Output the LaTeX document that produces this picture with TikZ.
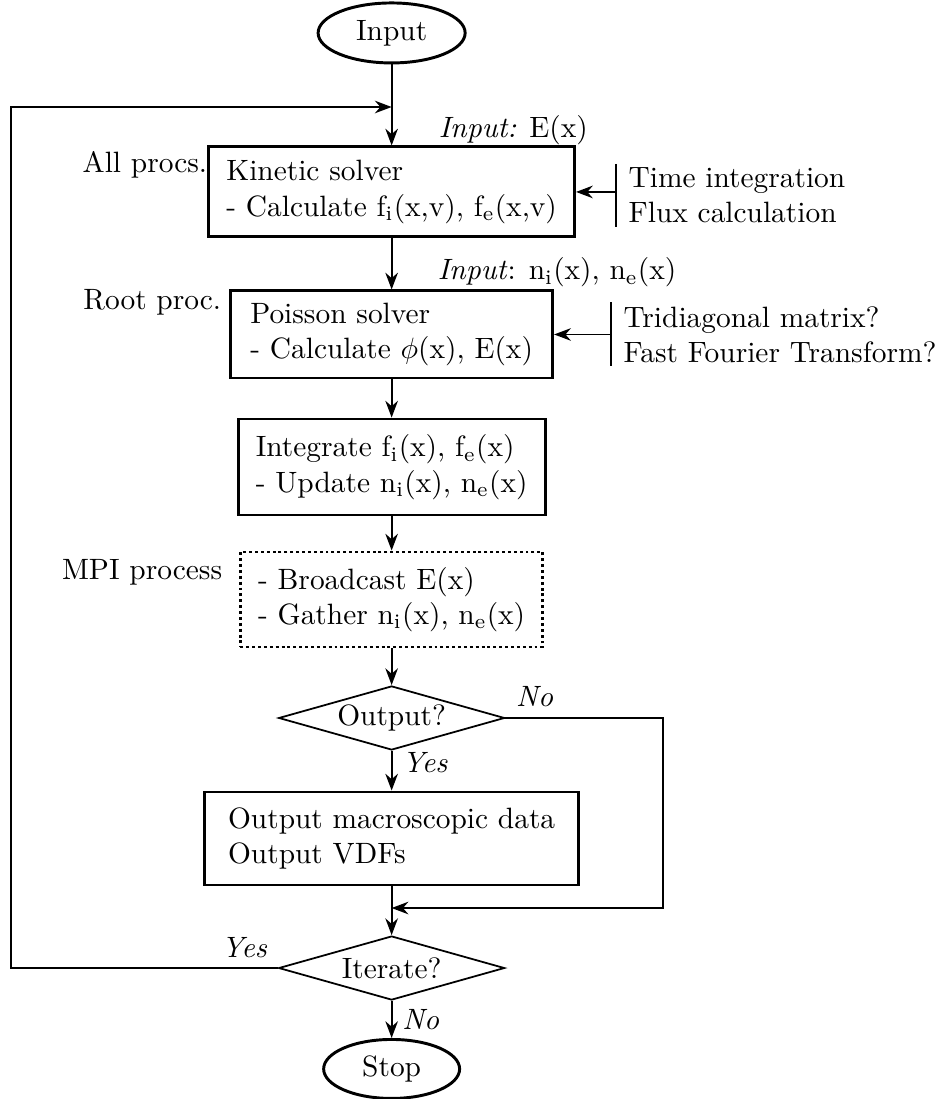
\documentclass[tikz,border=0pt]{standalone}
\usetikzlibrary{arrows.meta,shapes.geometric}

\begin{document}
\begin{tikzpicture}[line width=0.6pt,>=Stealth,
  block/.style={draw,line width=1pt,align=left,inner xsep=6pt},
  term/.style={draw,ellipse,line width=1pt,inner sep=0pt},
  decide/.style={draw,diamond,aspect=3.5,inner sep=0pt,minimum width=2.70cm,minimum height=0.765cm},
  method/.style={align=left,inner xsep=4pt,inner ysep=1pt},
  proclabel/.style={inner sep=0pt}]
\useasboundingbox (0,0) rectangle (11.185,13.133);
% start and end
\node[term,minimum width=1.757cm,minimum height=0.717cm] (input) at (4.68,12.739) {Input};
\node[term,minimum width=1.625cm,minimum height=0.705cm] (stop) at (4.68,0.359) {Stop};
% main blocks
\node[block,minimum width=4.278cm,minimum height=1.076cm] (kinetic) at (4.68,10.839)
  {Kinetic solver\\- Calculate f\textsubscript{i}(x,v), f\textsubscript{e}(x,v)};
\node[block,minimum width=3.848cm,minimum height=1.040cm] (poisson) at (4.68,9.136)
  {Poisson solver\\- Calculate $\phi$(x), E(x)};
\node[block,minimum width=3.573cm,minimum height=1.147cm] (integ) at (4.68,7.552)
  {Integrate f\textsubscript{i}(x), f\textsubscript{e}(x)\\- Update n\textsubscript{i}(x), n\textsubscript{e}(x)};
\node[block,densely dotted,minimum width=3.573cm,minimum height=1.135cm] (mpi) at (4.68,5.969)
  {- Broadcast E(x)\\- Gather n\textsubscript{i}(x), n\textsubscript{e}(x)};
\node[decide] (outq) at (4.68,4.553) {Output?};
\node[block,minimum width=4.469cm,minimum height=1.111cm] (outbox) at (4.68,3.113)
  {Output macroscopic data\\Output VDFs};
\node[decide] (iter) at (4.68,1.565) {Iterate?};
% who runs what
\node[proclabel,anchor=base east] (allp) at (2.486,11.066) {All procs.};
\node[proclabel,anchor=base east] (rootp) at (2.653,9.429) {Root proc.};
\node[proclabel,anchor=base east] (mpip) at (2.665,6.202) {MPI process};
% inputs
\node[proclabel,anchor=base west] (inE) at (5.234,11.484) {\textit{Input:} E(x)};
\node[proclabel,anchor=base west] (inN) at (5.222,9.787) {\textit{Input}: n\textsubscript{i}(x), n\textsubscript{e}(x)};
% methods on the right
\node[method,anchor=west] (time) at (7.361,10.797) {Time integration\\Flux calculation};
\node[method,anchor=west] (fft) at (7.301,9.136) {Tridiagonal matrix?\\Fast Fourier Transform?};
\draw (time.north west) -- (time.south west);
\draw (fft.north west) -- (fft.south west);
\draw[->] (time.west |- kinetic.east) -- (kinetic.east);
\draw[->] (fft.west |- poisson.east) -- (poisson.east);
% main flow
\draw[->] (input) -- (kinetic);
\draw[->] (kinetic) -- (poisson);
\draw[->] (poisson) -- (integ);
\draw[->] (integ) -- (mpi);
\draw[->] (mpi) -- (outq);
\draw[->] (outq) -- node[right,pos=0.3] {\textit{Yes}} (outbox);
\draw[->] (outbox) -- (iter);
\draw[->] (iter) -- node[right] {\textit{No}} (stop);
% skip output
\coordinate (join) at (4.68,2.282);
\draw[->] (outq.east) node[above right] {\textit{No}} -- ++(1.88,0) |- (join);
% loop back
\coordinate (back) at (4.68,11.854);
\draw[->] (iter.west) node[above left] {\textit{Yes}} -- ++(-3.187,0) |- (back);
\end{tikzpicture}
\end{document}
